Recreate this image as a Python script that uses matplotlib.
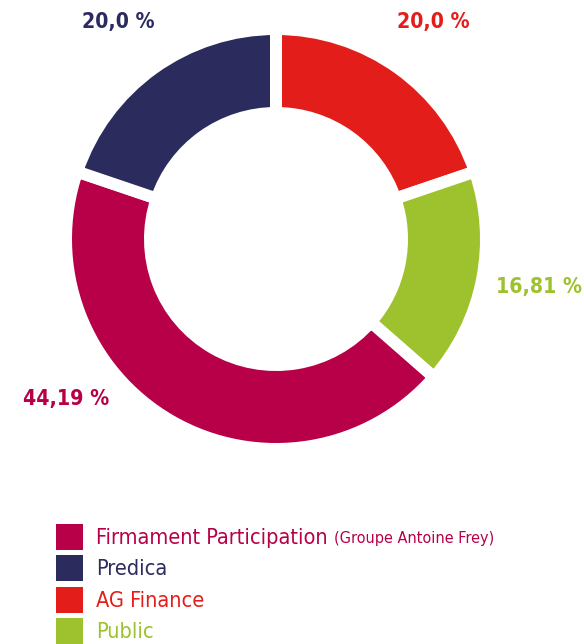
import matplotlib
matplotlib.use("Agg")
import matplotlib.pyplot as plt
from matplotlib.patches import Rectangle

# Données (ordre de la légende)
actionnaires = ["Firmament Participation", "Predica", "AG Finance", "Public"]
parts = [44.19, 20.0, 20.0, 16.81]
etiquettes = ["44,19 %", "20,0 %", "20,0 %", "16,81 %"]
couleurs = ["#B70047", "#2B2B5E", "#E31E1A", "#9DC22D"]
sous_titre = "(Groupe Antoine Frey)"

# ordre du camembert, sens horaire depuis le haut
ordre_pie = [2, 3, 0, 1]

W, H = 584, 644
fig = plt.figure(figsize=(W / 100, H / 100), dpi=100)
ax = fig.add_axes([0, 0, 1, 1])


def py(y):
    # coordonnées image (y vers le bas) -> axes
    return H - y


cx, cy = 276, 239
gap = 12
lw_pt = gap * 72 / 100

ax.pie([parts[i] for i in ordre_pie],
       colors=[couleurs[i] for i in ordre_pie],
       startangle=90, counterclock=False,
       center=(cx, py(cy)), radius=204 + gap / 2,
       wedgeprops=dict(width=72 + gap, edgecolor="white", linewidth=lw_pt),
       frame=True)
ax.set_xlim(0, W)
ax.set_ylim(0, H)
ax.set_aspect("equal")
ax.axis("off")

police = dict(family="DejaVu Sans", fontstretch="condensed", fontweight="bold")

# positions des étiquettes de pourcentage
pos_etiq = [(66, 399), (118, 22), (433, 22), (539, 287)]
for i, (x, y) in enumerate(pos_etiq):
    ax.text(x, py(y), etiquettes[i], color=couleurs[i], fontsize=15.2,
            ha="center", va="center", **police)

# légende
y0, pas = 537, 31.3
for i, nom in enumerate(actionnaires):
    y = y0 + i * pas
    ax.add_patch(Rectangle((56, py(y + 13)), 27, 26, color=couleurs[i], lw=0))
    t = ax.text(96, py(y + 1), nom, color=couleurs[i], fontsize=15.6,
                ha="left", va="center", family="DejaVu Sans",
                fontstretch="condensed")
    if i == 0:
        fig.canvas.draw()
        bb = t.get_window_extent()
        x_fin = ax.transData.inverted().transform((bb.x1, bb.y0))[0]
        ax.text(x_fin + 6, py(y + 2), sous_titre, color=couleurs[i],
                fontsize=11.6, ha="left", va="center", family="DejaVu Sans",
                fontstretch="condensed")

fig.savefig("out.png", dpi=100)
